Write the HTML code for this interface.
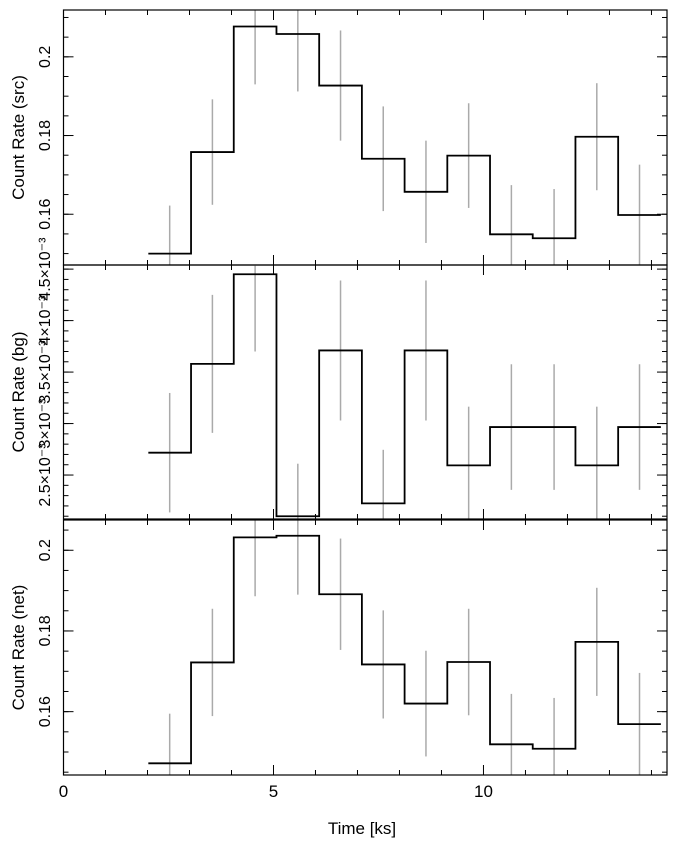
<!DOCTYPE html>
<html><head><meta charset="utf-8"><style>
html,body{margin:0;padding:0;background:#fff;}
svg{display:block;font-family:"Liberation Sans",Arial,sans-serif;}
</style></head><body>
<svg id="chart" width="676" height="846" viewBox="0 0 676 846" xmlns="http://www.w3.org/2000/svg"></svg>
<script>
const binStart = 2.02;
const binWidth = 1.017;
const srcRate = [0.150,0.1758,0.2077,0.2058,0.1927,0.1741,0.1657,0.1749,0.1549,0.1539,0.1797,0.1598];
const srcErr = [0.0122,0.0134,0.0147,0.0146,0.014,0.0133,0.013,0.0133,0.0125,0.0125,0.0136,0.0128];
const bgRate = [2.717,3.58,4.45,2.10,3.71,2.225,3.71,2.594,2.966,2.966,2.594,2.966];
const bgErr = [0.58,0.67,0.75,0.51,0.68,0.52,0.68,0.57,0.61,0.61,0.57,0.61];
const netRate = [0.1472,0.1722,0.2032,0.2036,0.1891,0.1717,0.162,0.1723,0.1519,0.1508,0.1773,0.1569];
const netErr = [0.0123,0.0133,0.0146,0.0146,0.0138,0.0134,0.0131,0.0132,0.0125,0.0126,0.0134,0.0127];
const xTickLabels = ["0","5","10"];
const srcTickLabels = ["0.16","0.18","0.2"];
const netTickLabels = ["0.16","0.18","0.2"];
const bgTickLabels = ["2.5×10⁻³","3×10⁻³","3.5×10⁻³","4×10⁻³","4.5×10⁻³"];

const svg = document.getElementById('chart');
const NS = 'http://www.w3.org/2000/svg';
const X0 = 63.5, X1 = 667, XMIN = 0, XMAX = 14.37;
function sx(v){ return X0 + (v - XMIN) / (XMAX - XMIN) * (X1 - X0); }
function mk(tag, attrs){ const e = document.createElementNS(NS, tag); for (const k in attrs) e.setAttribute(k, attrs[k]); return e; }

const panels = [
  {name:'src', top:10, bot:265, ymin:0.1471, ymax:0.2119, rate:srcRate, err:srcErr, scale:1, major:[0.16,0.18,0.20], labels:srcTickLabels, minorStep:0.005, title:'Count Rate (src)'},
  {name:'bg', top:265, bot:519, ymin:2.073, ymax:4.54, rate:bgRate, err:bgErr, scale:1, major:[2.5,3,3.5,4,4.5], labels:bgTickLabels, minorStep:0.1, title:'Count Rate (bg)'},
  {name:'net', top:520, bot:775, ymin:0.1443, ymax:0.2075, rate:netRate, err:netErr, scale:1, major:[0.16,0.18,0.20], labels:netTickLabels, minorStep:0.005, title:'Count Rate (net)'}
];

panels.forEach(p => {
  const g = mk('g', {});
  
  
  svg.appendChild(g);
  const sy = v => p.bot - (v - p.ymin) / (p.ymax - p.ymin) * (p.bot - p.top);
  const clipId = 'clip-' + p.name;
  const cp = mk('clipPath', {id: clipId});
  cp.appendChild(mk('rect', {x:X0, y:p.top, width:X1-X0, height:p.bot-p.top}));
  g.appendChild(cp);
  const inner = mk('g', {'clip-path':'url(#'+clipId+')'});
  g.appendChild(inner);
  // error bars
  p.rate.forEach((v, i) => {
    const xc = sx(binStart + (i + 0.5) * binWidth);
    const l = mk('line', {x1:xc, x2:xc, y1:sy(v + p.err[i]), y2:sy(v - p.err[i]), stroke:'#aaa', 'stroke-width':1.5});
    
    
    inner.appendChild(l);
  });
  // step line
  let d = '';
  p.rate.forEach((v, i) => {
    const xa = sx(binStart + i * binWidth), xb = sx(binStart + (i + 1) * binWidth);
    d += (i === 0 ? 'M' : 'L') + xa + ' ' + sy(v) + ' L' + xb + ' ' + sy(v) + ' ';
  });
  const path = mk('path', {d:d, fill:'none', stroke:'#000', 'stroke-width':1.8});
  
  
  inner.appendChild(path);
  // frame
  const fr = mk('rect', {x:X0, y:p.top, width:X1-X0, height:p.bot-p.top, fill:'none', stroke:'#000', 'stroke-width':1.2});
  
  
  g.appendChild(fr);
  // x ticks top and bottom
  for (let t = 0; t <= 14; t++) {
    const len = (t % 5 === 0) ? 10 : 5;
    const x = sx(t);
    g.appendChild(mk('line', {x1:x, x2:x, y1:p.top, y2:p.top + len, stroke:'#000', 'stroke-width':1}));
    g.appendChild(mk('line', {x1:x, x2:x, y1:p.bot, y2:p.bot - len, stroke:'#000', 'stroke-width':1}));
  }
  // y minor ticks
  const start = Math.ceil(p.ymin / p.minorStep);
  for (let k = start; k * p.minorStep <= p.ymax; k++) {
    const y = sy(k * p.minorStep);
    g.appendChild(mk('line', {x1:X0, x2:X0 + 5, y1:y, y2:y, stroke:'#000', 'stroke-width':1}));
    g.appendChild(mk('line', {x1:X1, x2:X1 - 5, y1:y, y2:y, stroke:'#000', 'stroke-width':1}));
  }
  // y major ticks & labels
  p.major.forEach((v, i) => {
    const y = sy(v);
    g.appendChild(mk('line', {x1:X0, x2:X0 + 10, y1:y, y2:y, stroke:'#000', 'stroke-width':1}));
    g.appendChild(mk('line', {x1:X1, x2:X1 - 10, y1:y, y2:y, stroke:'#000', 'stroke-width':1}));
    const tx = mk('text', {x:0, y:0, 'font-size':16, 'text-anchor':'middle', transform:'translate(50,'+y+') rotate(-90)'});
    tx.textContent = p.labels[i];
    
    
    g.appendChild(tx);
  });
  const yc = (p.top + p.bot) / 2;
  const tt = mk('text', {x:0, y:0, 'font-size':17, 'text-anchor':'middle', transform:'translate(24,'+yc+') rotate(-90)'});
  tt.textContent = p.title;
  
  
  g.appendChild(tt);
});

xTickLabels.forEach((s) => {
  const t = mk('text', {x:sx(parseFloat(s)), y:797, 'font-size':17, 'text-anchor':'middle'});
  t.textContent = s;
  
  
  svg.appendChild(t);
});
const xt = mk('text', {x:362, y:834, 'font-size':17, 'text-anchor':'middle'});
xt.textContent = 'Time [ks]';


svg.appendChild(xt);
</script>
</body></html>
